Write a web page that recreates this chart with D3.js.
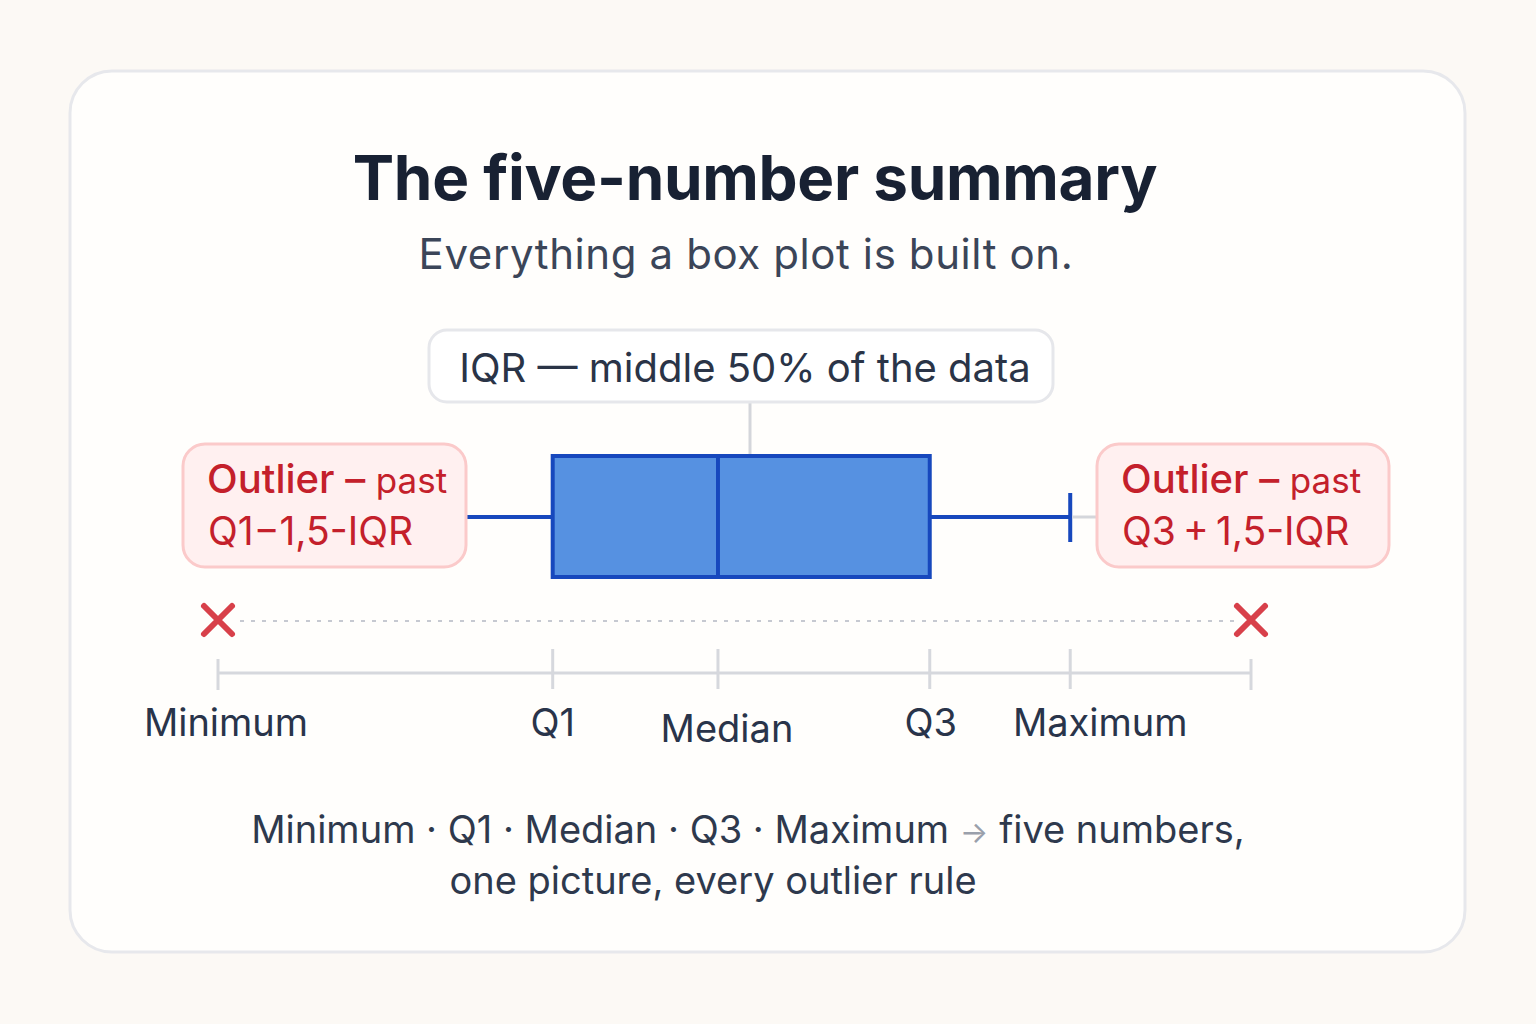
<!DOCTYPE html>
<html>
<head>
<meta charset="utf-8">
<script src="https://cdn.jsdelivr.net/npm/d3@7"></script>
<style>
  html, body { margin: 0; padding: 0; background: #fcf9f5; }
  svg { display: block; font-family: Inter, "Noto Sans", sans-serif; }
</style>
</head>
<body>
<div id="chart"></div>
<script>
// summary values on an arbitrary 0-100 scale
var stats = {min: 0, q1: 32.4, median: 48.4, q3: 68.9, max: 82.5};
var whiskerLow = 24.1;
var outliers = [0, 100];
var tickValues = [0, 32.4, 48.4, 68.9, 82.5, 100];
var tickLabels = ["Minimum", "Q1", "Median", "Q3", "Maximum", ""];
var labelShift = [8, 0, 9, 1, 30, 0];
var footerLines = ["Minimum · Q1 · Median · Q3 · Maximum", "one picture, every outlier rule"];

var width = 1536, height = 1024;

var svg = d3.select("#chart").append("svg")
    .attr("width", width)
    .attr("height", height);

svg.append("rect")
    .attr("x", 70).attr("y", 71)
    .attr("width", 1395).attr("height", 881)
    .attr("rx", 42)
    .attr("fill", "#fffefc")
    .attr("stroke", "#e7e8ec")
    .attr("stroke-width", 3);

svg.append("text")
    .attr("x", 755).attr("y", 200)
    .attr("text-anchor", "middle")
    .attr("font-size", 62).attr("font-weight", 700)
    .attr("fill", "#182133")
    .attr("letter-spacing", -0.3)
    .text("The five-number summary");

svg.append("text")
    .attr("x", 746).attr("y", 269)
    .attr("text-anchor", "middle")
    .attr("font-size", 42)
    .attr("letter-spacing", 0.6)
    .attr("fill", "#3b4558")
    .text("Everything a box plot is built on.");

var x = d3.scaleLinear().domain([0, 100]).range([218, 1251]);

var boxTop = 456, boxBottom = 577, midY = 517;

// IQR label
svg.append("line")
    .attr("x1", 750).attr("x2", 750)
    .attr("y1", 402).attr("y2", boxTop)
    .attr("stroke", "#d4d6db").attr("stroke-width", 3);

svg.append("rect")
    .attr("x", 429).attr("y", 330)
    .attr("width", 624).attr("height", 72)
    .attr("rx", 18)
    .attr("fill", "#ffffff")
    .attr("stroke", "#e6e7eb").attr("stroke-width", 3);

svg.append("text")
    .attr("x", 745).attr("y", 382)
    .attr("text-anchor", "middle")
    .attr("font-size", 40)
    .attr("fill", "#2a3447")
    .text("IQR — middle 50% of the data");

// whiskers
svg.append("line")
    .attr("x1", x(whiskerLow)).attr("x2", x(stats.q1))
    .attr("y1", midY).attr("y2", midY)
    .attr("stroke", "#1748bd").attr("stroke-width", 4);

svg.append("line")
    .attr("x1", x(stats.q3)).attr("x2", x(stats.max))
    .attr("y1", midY).attr("y2", midY)
    .attr("stroke", "#1748bd").attr("stroke-width", 4);

svg.append("line")
    .attr("x1", x(stats.max)).attr("x2", x(stats.max))
    .attr("y1", 493).attr("y2", 542)
    .attr("stroke", "#1748bd").attr("stroke-width", 4);

svg.append("line")
    .attr("x1", x(stats.max) + 2).attr("x2", 1098)
    .attr("y1", midY).attr("y2", midY)
    .attr("stroke", "#d4d6db").attr("stroke-width", 3);

// box
svg.append("rect")
    .attr("x", x(stats.q1)).attr("y", boxTop)
    .attr("width", x(stats.q3) - x(stats.q1))
    .attr("height", boxBottom - boxTop)
    .attr("fill", "#5691e1")
    .attr("stroke", "#1748bd").attr("stroke-width", 4);

svg.append("line")
    .attr("x1", x(stats.median)).attr("x2", x(stats.median))
    .attr("y1", boxTop).attr("y2", boxBottom)
    .attr("stroke", "#1748bd").attr("stroke-width", 4);

// outlier callouts
function callout(bx, bw, line2) {
    var g = svg.append("g");
    g.append("rect")
        .attr("x", bx).attr("y", 444)
        .attr("width", bw).attr("height", 123)
        .attr("rx", 22)
        .attr("fill", "#fff0f0")
        .attr("stroke", "#fbcaca").attr("stroke-width", 3);
    var t = g.append("text")
        .attr("x", bx + 24).attr("y", 493)
        .attr("fill", "#c4202b");
    t.append("tspan").attr("font-size", 40).attr("font-weight", 500).text("Outlier – ");
    t.append("tspan").attr("font-size", 35).text("past");
    g.append("text")
        .attr("x", bx + 25).attr("y", 545)
        .attr("font-size", 39)
        .attr("fill", "#c4202b")
        .text(line2);
}
callout(183, 283, "Q1−1,5-IQR");
callout(1097, 292, "Q3\u2009+\u20091,5-IQR");

// dotted range line and outlier crosses
svg.append("line")
    .attr("x1", x(outliers[0]) + 22).attr("x2", x(outliers[1]) - 12)
    .attr("y1", 621).attr("y2", 621)
    .attr("stroke", "#c6c9d1").attr("stroke-width", 2)
    .attr("stroke-dasharray", "4,7");

svg.selectAll(".cross")
    .data(outliers)
    .enter().append("path")
    .attr("class", "cross")
    .attr("d", d => {
        var cx = x(d), cy = 620, r = 14;
        return "M" + (cx - r) + "," + (cy - r) + "L" + (cx + r) + "," + (cy + r) +
               "M" + (cx + r) + "," + (cy - r) + "L" + (cx - r) + "," + (cy + r);
    })
    .attr("stroke", "#d8404a").attr("stroke-width", 6)
    .attr("stroke-linecap", "round")
    .attr("fill", "none");

// axis
var axisY = 673;
svg.append("line")
    .attr("x1", x(0)).attr("x2", x(100))
    .attr("y1", axisY).attr("y2", axisY)
    .attr("stroke", "#d6d8dd").attr("stroke-width", 3);

svg.selectAll(".tick")
    .data(tickValues)
    .enter().append("line")
    .attr("class", "tick")
    .attr("x1", d => x(d)).attr("x2", d => x(d))
    .attr("y1", (d, i) => (i === 0 || i === tickValues.length - 1) ? 659 : 649)
    .attr("y2", (d, i) => (i === 0 || i === tickValues.length - 1) ? 690 : 689)
    .attr("stroke", "#d6d8dd").attr("stroke-width", 3);

svg.selectAll(".tick-label")
    .data(tickValues)
    .enter().append("text")
    .attr("class", "tick-label")
    .attr("x", (d, i) => x(d) + labelShift[i])
    .attr("y", (d, i) => tickLabels[i] === "Median" ? 742 : 736)
    .attr("text-anchor", "middle")
    .attr("font-size", 38)
    .attr("fill", "#29344a")
    .text((d, i) => tickLabels[i]);

// footer
var f1 = svg.append("text")
    .attr("x", 748).attr("y", 843)
    .attr("text-anchor", "middle")
    .attr("font-size", 38)
    .attr("fill", "#2e394d");
f1.append("tspan").text(footerLines[0] + " ");
f1.append("tspan").attr("fill", "#9aa0ab").attr("font-size", 30).text("→");
f1.append("tspan").text(" five numbers,");

svg.append("text")
    .attr("x", 713).attr("y", 894)
    .attr("text-anchor", "middle")
    .attr("font-size", 38)
    .attr("fill", "#2e394d")
    .text(footerLines[1]);
</script>
</body>
</html>
